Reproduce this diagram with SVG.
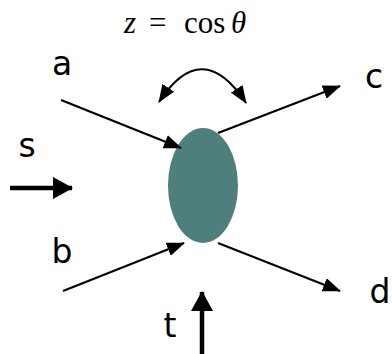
<svg xmlns="http://www.w3.org/2000/svg" width="392" height="354" viewBox="0 0 392 354">
<defs>
<style>
.lbl{font-family:"DejaVu Sans","Noto Sans",sans-serif;font-size:33px;fill:#000}
.math{font-family:"Liberation Serif","DejaVu Serif",serif;font-size:31px;fill:#000}
.ln{stroke:#000;stroke-width:2.2;fill:none}
.thick{stroke:#000;stroke-width:4.5;fill:none}
</style>
<marker id="ah" viewBox="0 0 18 14" refX="17" refY="7" markerWidth="18" markerHeight="14" markerUnits="userSpaceOnUse" orient="auto-start-reverse">
<path d="M0,0 L18,7 L0,14 z" fill="#000"/>
</marker>
<marker id="ahb" viewBox="0 0 20 22" refX="19" refY="11" markerWidth="20" markerHeight="22" markerUnits="userSpaceOnUse" orient="auto">
<path d="M0,0 L20,11 L0,22 z" fill="#000"/>
</marker>
</defs>
<text class="math" y="33"><tspan x="124" font-style="italic">z</tspan><tspan x="149">=</tspan><tspan x="184">cos</tspan><tspan x="231" font-style="italic">θ</tspan></text>
<g id="vertex">
<ellipse cx="203" cy="185.5" rx="35" ry="57.5" fill="#4e7f7d"/>
</g>
<g id="labels">
<text id="label-a" class="lbl" x="62" y="75" text-anchor="middle">a</text>
<text id="label-b" class="lbl" x="62" y="263" text-anchor="middle">b</text>
<text id="label-c" class="lbl" x="374" y="88" text-anchor="middle">c</text>
<text id="label-d" class="lbl" x="380" y="303" text-anchor="middle">d</text>
<text id="label-s" class="lbl" x="27" y="157" text-anchor="middle">s</text>
<text id="label-t" class="lbl" x="170" y="337" text-anchor="middle">t</text>
</g>
<g id="connectors">
<line class="ln" x1="61" y1="100" x2="181" y2="148" marker-end="url(#ah)"/>
<line class="ln" x1="63" y1="291" x2="184" y2="243" marker-end="url(#ah)"/>
<line class="ln" x1="218" y1="133" x2="340" y2="86" marker-end="url(#ah)"/>
<line class="ln" x1="218" y1="243" x2="340" y2="291" marker-end="url(#ah)"/>
<path class="ln" d="M159 102 Q202 36 246 103" marker-start="url(#ah)" marker-end="url(#ah)"/>
<line class="thick" x1="10" y1="188" x2="72" y2="188" marker-end="url(#ahb)"/>
<line class="thick" x1="202" y1="354" x2="202" y2="292" marker-end="url(#ahb)"/>
</g>
</svg>
